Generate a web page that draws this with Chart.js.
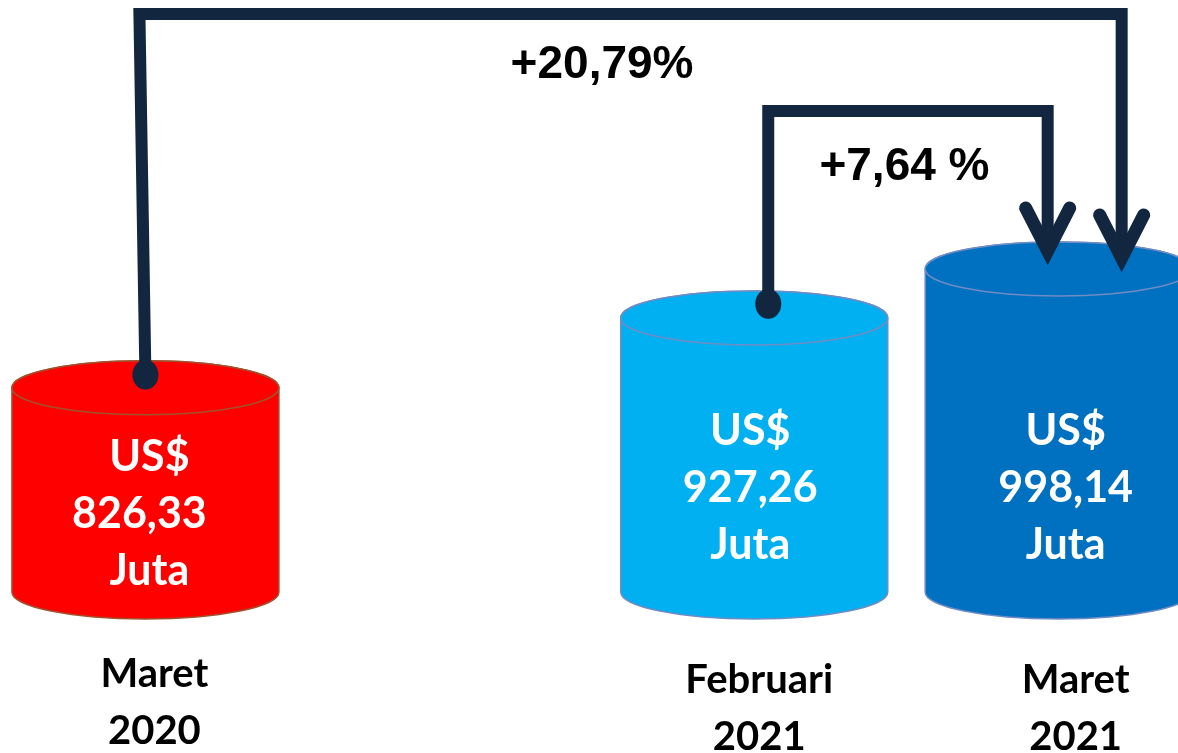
<!DOCTYPE html>
<html>
<head>
<meta charset="utf-8">
<script src="https://cdn.jsdelivr.net/npm/chart.js@4"></script>
<style>
  html, body { margin: 0; padding: 0; background: #fff; }
  #wrap { width: 1178px; height: 753px; position: relative; }
</style>
</head>
<body>
<div id="wrap"><canvas id="ekspor"></canvas></div>
<script>
const periods = [['Maret', '2020'], ['Februari', '2021'], ['Maret', '2021']];
const slots = [0, 2, 3];
const values = [826.33, 927.26, 998.14];
const valueTexts = ['826,33', '927,26', '998,14'];
const growthTexts = ['+20,79%', '+7,64 %'];
const fills = ['#ff0000', '#00b0f0', '#0070c0'];
const edges = ['#a0522d', '#6f8cc4', '#6f8cc4'];
const yFloor = 531;
const yCeil = 1387;

// small per-cylinder nudges for the text blocks (layout only)
const textNudge = [
  { dx: 4, base: -64 },
  { dx: -4, base: -90 },
  { dx: 7, base: -90 },
];
const periodNudge = [
  { dx: 9, dy: 95 },
  { dx: 5, dy: 101 },
  { dx: 17, dy: 101 },
];

const navy = '#12263f';
const lineLevels = [14, 111];

const cylinders = {
  id: 'cylinders',
  afterDatasetsDraw(chart) {
    const { ctx } = chart;
    const bars = chart.getDatasetMeta(0).data.map((bar) =>
      bar.getProps(['x', 'y', 'base', 'width'], true),
    );

    bars.forEach((bar, i) => {
      const { x, y, base, width } = bar;
      const rx = width / 2;
      const ry = 27;
      ctx.save();
      ctx.fillStyle = fills[i];
      ctx.strokeStyle = edges[i];
      ctx.lineWidth = 1.5;
      ctx.beginPath();
      ctx.moveTo(x - rx, y);
      ctx.lineTo(x - rx, base);
      ctx.ellipse(x, base, rx, ry, 0, Math.PI, 0, true);
      ctx.lineTo(x + rx, y);
      ctx.ellipse(x, y, rx, ry, 0, 0, -Math.PI, true);
      ctx.closePath();
      ctx.fill();
      ctx.stroke();
      ctx.beginPath();
      ctx.ellipse(x, y, rx, ry, 0, 0, Math.PI * 2);
      ctx.fill();
      ctx.stroke();

      // value text inside cylinder
      ctx.fillStyle = '#ffffff';
      ctx.font = 'bold 43px Lato';
      ctx.textAlign = 'center';
      ctx.textBaseline = 'alphabetic';
      const tx = x + textNudge[i].dx;
      const mid = base + textNudge[i].base;
      ctx.fillText('US$', tx, mid - 57);
      ctx.fillText(valueTexts[i], tx - (i === 0 ? 10 : 0), mid);
      ctx.fillText('Juta', tx, mid + 57);

      // period label under cylinder
      ctx.fillStyle = '#000000';
      ctx.font = 'bold 40px Lato';
      const px = x + periodNudge[i].dx;
      ctx.fillText(periods[i][0], px, base + periodNudge[i].dy);
      ctx.fillText(periods[i][1], px, base + periodNudge[i].dy + 57);
      ctx.restore();
    });

    const [b0, b1, b2] = bars;
    const arrows = [
      {
        dot: { x: b0.x, y: b0.y - 13 },
        corner: b0.x - 6,
        level: lineLevels[0],
        tipX: b2.x + 63,
        tipY: b2.y - 7,
      },
      {
        dot: { x: b1.x + 14, y: b1.y - 14 },
        corner: b1.x + 14,
        level: lineLevels[1],
        tipX: b2.x - 11,
        tipY: b2.y - 14,
      },
    ];

    ctx.save();
    ctx.strokeStyle = navy;
    ctx.fillStyle = navy;
    ctx.lineWidth = 12;
    arrows.forEach((a) => {
      ctx.lineJoin = 'miter';
      ctx.lineCap = 'butt';
      ctx.beginPath();
      ctx.moveTo(a.dot.x, a.dot.y);
      ctx.lineTo(a.corner, a.level);
      ctx.lineTo(a.tipX, a.level);
      ctx.lineTo(a.tipX, a.tipY - 12);
      ctx.stroke();

      ctx.lineCap = 'round';
      ctx.lineWidth = 13;
      ctx.beginPath();
      ctx.moveTo(a.tipX - 22, a.tipY - 47);
      ctx.lineTo(a.tipX, a.tipY - 4);
      ctx.lineTo(a.tipX + 22, a.tipY - 47);
      ctx.stroke();
      ctx.lineWidth = 12;

      ctx.beginPath();
      ctx.ellipse(a.dot.x, a.dot.y, 13, 15, 0, 0, Math.PI * 2);
      ctx.fill();
    });

    ctx.fillStyle = '#000000';
    ctx.font = 'bold 46px "Liberation Sans"';
    ctx.textAlign = 'center';
    ctx.textBaseline = 'alphabetic';
    ctx.fillText(growthTexts[0], (b0.x + b2.x) / 2, lineLevels[0] + 64);
    ctx.fillText(growthTexts[1], (b1.x + b2.x) / 2 - 2, lineLevels[1] + 69);
    ctx.restore();
  },
};

new Chart(document.getElementById('ekspor'), {
  type: 'bar',
  data: {
    datasets: [
      {
        data: slots.map((slot, i) => ({ x: slot, y: values[i] })),
        base: yFloor,
        backgroundColor: 'rgba(0,0,0,0)',
        borderWidth: 0,
        barThickness: 267,
      },
    ],
  },
  options: {
    responsive: true,
    maintainAspectRatio: false,
    animation: false,
    layout: { padding: { top: 0, bottom: 161, left: 0, right: 0 } },
    plugins: {
      legend: { display: false },
      tooltip: { enabled: false },
    },
    scales: {
      x: { type: 'linear', min: -0.4777, max: 3.392, offset: false, display: false },
      y: { min: yFloor, max: yCeil, display: false },
    },
  },
  plugins: [cylinders],
});
</script>
</body>
</html>
